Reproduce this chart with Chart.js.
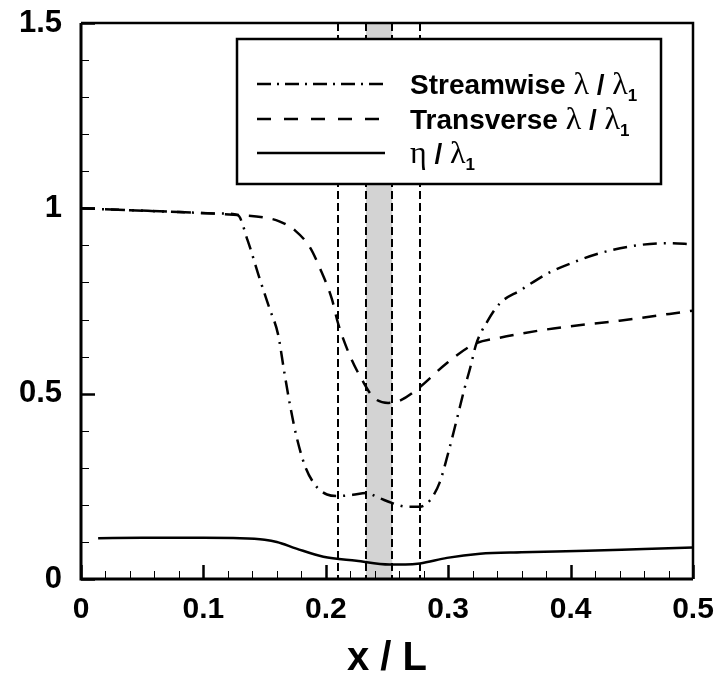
<!DOCTYPE html>
<html>
<head>
<meta charset="utf-8">
<script src="https://cdn.jsdelivr.net/npm/chart.js@4.4.0/dist/chart.umd.min.js"></script>
<style>
  body { margin: 0; background: #fff; }
  #wrap { width: 722px; height: 691px; }
</style>
</head>
<body>
<div id="wrap"><canvas id="myChart01" width="722" height="691"></canvas></div>
<script>
// 資料
var streamX = [0, 0.04, 0.08, 0.115, 0.128, 0.136, 0.146, 0.154, 0.161, 0.166, 0.171, 0.176, 0.183, 0.191, 0.201, 0.210, 0.222, 0.233, 0.244, 0.255, 0.266, 0.277, 0.285, 0.293, 0.300, 0.307, 0.313, 0.318, 0.323, 0.332, 0.342, 0.359, 0.381, 0.402, 0.426, 0.454, 0.479, 0.5];
var streamY = [1.0, 0.995, 0.99, 0.986, 0.982, 0.915, 0.81, 0.73, 0.66, 0.56, 0.465, 0.385, 0.305, 0.255, 0.228, 0.224, 0.227, 0.232, 0.218, 0.204, 0.195, 0.195, 0.212, 0.26, 0.34, 0.43, 0.51, 0.57, 0.635, 0.695, 0.743, 0.779, 0.824, 0.854, 0.881, 0.9, 0.906, 0.903];

var transX = [0, 0.04, 0.08, 0.128, 0.15, 0.162, 0.175, 0.187, 0.195, 0.205, 0.21, 0.22, 0.23, 0.239, 0.251, 0.261, 0.277, 0.299, 0.322, 0.342, 0.386, 0.44, 0.5];
var transY = [1.0, 0.995, 0.99, 0.982, 0.975, 0.965, 0.94, 0.895, 0.84, 0.755, 0.69, 0.6, 0.535, 0.49, 0.475, 0.482, 0.518, 0.583, 0.635, 0.651, 0.676, 0.697, 0.724];

var etaX = [0.014, 0.05, 0.1, 0.13, 0.15, 0.16, 0.176, 0.198, 0.225, 0.252, 0.265, 0.277, 0.299, 0.326, 0.36, 0.413, 0.46, 0.5];
var etaY = [0.11, 0.111, 0.111, 0.11, 0.106, 0.1, 0.082, 0.06, 0.049, 0.039, 0.039, 0.042, 0.057, 0.068, 0.072, 0.076, 0.081, 0.085];

// vertical marker lines and shaded band
var markerX = [0.2102, 0.2328, 0.2543, 0.2772];
var bandX = [0.2328, 0.2543];

var xTicks = [0, 0.1, 0.2, 0.3, 0.4, 0.5];
var yTicks = [0, 0.5, 1, 1.5];

function pts(xs, ys) {
    return xs.map(function (x, i) { return { x: x, y: ys[i] }; });
}

var SANS = '"Liberation Sans", Arial, sans-serif';
var SERIF = '"Liberation Serif", "Times New Roman", serif';

// 框線, 刻度, 圖例
var decor = {
    id: 'decor',
    beforeDatasetsDraw: function (chart) {
        var ctx = chart.ctx, a = chart.chartArea;
        var xs = chart.scales.x;
        ctx.save();
        ctx.fillStyle = '#d3d3d3';
        var b0 = xs.getPixelForValue(bandX[0]), b1 = xs.getPixelForValue(bandX[1]);
        ctx.fillRect(b0, a.top, b1 - b0, a.bottom - a.top);
        ctx.strokeStyle = '#000';
        ctx.lineWidth = 2;
        ctx.setLineDash([8, 4]);
        markerX.forEach(function (v) {
            var px = Math.round(xs.getPixelForValue(v));
            ctx.beginPath();
            ctx.moveTo(px, a.top);
            ctx.lineTo(px, a.bottom);
            ctx.stroke();
        });
        ctx.restore();
    },
    afterDatasetsDraw: function (chart) {
        var ctx = chart.ctx, a = chart.chartArea;
        var xs = chart.scales.x, ys = chart.scales.y;
        ctx.save();
        ctx.strokeStyle = '#000';
        ctx.setLineDash([]);

        // minor / major ticks (inward)
        var i, v, p;
        for (i = 0; i <= 25; i++) {
            v = i * 0.02;
            p = Math.round(xs.getPixelForValue(v)) + 0.5;
            var major = (i % 5 === 0);
            ctx.lineWidth = major ? 2.5 : 1;
            ctx.beginPath();
            ctx.moveTo(p, a.bottom);
            ctx.lineTo(p, a.bottom - (major ? 14 : 8));
            ctx.stroke();
        }
        for (i = 0; i <= 15; i++) {
            v = i * 0.1;
            p = Math.round(ys.getPixelForValue(v)) + 0.5;
            var majorY = (i % 5 === 0);
            ctx.lineWidth = majorY ? 2.5 : 1;
            ctx.beginPath();
            ctx.moveTo(a.left, p);
            ctx.lineTo(a.left + (majorY ? 14 : 8), p);
            ctx.stroke();
        }

        // frame
        ctx.lineWidth = 2.5;
        ctx.beginPath();
        ctx.moveTo(a.left, a.top);
        ctx.lineTo(a.right, a.top);
        ctx.lineTo(a.right, a.bottom);
        ctx.stroke();
        ctx.lineWidth = 3;
        ctx.beginPath();
        ctx.moveTo(a.left, a.top);
        ctx.lineTo(a.left, a.bottom);
        ctx.lineTo(a.right, a.bottom);
        ctx.stroke();

        // legend box
        var bx = 237, by = 39, bw = 424, bh = 145;
        ctx.fillStyle = '#fff';
        ctx.fillRect(bx, by, bw, bh);
        ctx.lineWidth = 2.5;
        ctx.strokeRect(bx, by, bw, bh);

        var rows = [
            { y: 84, dash: [14, 6, 2, 6], parts: [['b', 'Streamwise '], ['g', '\u03bb'], ['b', ' / '], ['g', '\u03bb'], ['s', '1']] },
            { y: 119, dash: [14, 13], parts: [['b', 'Transverse '], ['g', '\u03bb'], ['b', ' / '], ['g', '\u03bb'], ['s', '1']] },
            { y: 153, dash: [], parts: [['g', '\u03b7'], ['b', ' / '], ['g', '\u03bb'], ['s', '1']] }
        ];
        rows.forEach(function (r) {
            ctx.lineWidth = 2.5;
            ctx.setLineDash(r.dash);
            ctx.beginPath();
            ctx.moveTo(257, r.y);
            ctx.lineTo(385, r.y);
            ctx.stroke();
            ctx.setLineDash([]);
            var tx = 410;
            ctx.fillStyle = '#000';
            ctx.textBaseline = 'alphabetic';
            r.parts.forEach(function (pt) {
                var base = r.y + 10;
                if (pt[0] === 'b') ctx.font = 'bold 28px ' + SANS;
                else if (pt[0] === 'g') ctx.font = '32px ' + SERIF;
                else { ctx.font = 'bold 17px ' + SANS; base = r.y + 17; }
                ctx.fillText(pt[1], tx, base);
                tx += ctx.measureText(pt[1]).width;
            });
        });
        ctx.restore();
    }
};

var ctx01 = document.getElementById('myChart01');
var chart01 = new Chart(ctx01, {
    type: 'line',
    data: {
        datasets: [{
            label: 'Streamwise',
            data: pts(streamX, streamY),
            borderColor: '#000',
            borderWidth: 2.5,
            borderDash: [14, 7, 2, 7],
            pointRadius: 0,
            cubicInterpolationMode: 'monotone',
            fill: false
        }, {
            label: 'Transverse',
            data: pts(transX, transY),
            borderColor: '#000',
            borderWidth: 2.5,
            borderDash: [14, 10],
            pointRadius: 0,
            cubicInterpolationMode: 'monotone',
            fill: false
        }, {
            label: 'eta',
            data: pts(etaX, etaY),
            borderColor: '#000',
            borderWidth: 2.5,
            pointRadius: 0,
            cubicInterpolationMode: 'monotone',
            fill: false
        }]
    },
    options: {
        responsive: false,
        animation: false,
        devicePixelRatio: 1,
        layout: { padding: { top: 23, right: 29, left: 0, bottom: 0 } },
        plugins: { legend: { display: false }, tooltip: { enabled: false } },
        scales: {
            x: {
                type: 'linear',
                min: 0,
                max: 0.5,
                afterFit: function (s) { s.height = 112; s.paddingLeft = 0; s.paddingRight = 0; },
                afterBuildTicks: function (s) { s.ticks = xTicks.map(function (v) { return { value: v }; }); },
                grid: { display: false, drawTicks: false },
                border: { display: false },
                ticks: {
                    color: '#000',
                    padding: 13,
                    maxRotation: 0,
                    callback: function (v) { return String(v); },
                    font: { family: SANS, size: 30, weight: 'bold' }
                },
                title: {
                    display: true,
                    text: 'x / L',
                    color: '#000',
                    font: { family: SANS, size: 40, weight: 'bold' },
                    padding: { top: 0, bottom: 8 }
                }
            },
            y: {
                type: 'linear',
                min: 0,
                max: 1.5,
                afterFit: function (s) { s.width = 81; s.paddingTop = 0; s.paddingBottom = 0; },
                afterBuildTicks: function (s) { s.ticks = yTicks.map(function (v) { return { value: v }; }); },
                grid: { display: false, drawTicks: false },
                border: { display: false },
                ticks: {
                    color: '#000',
                    padding: 19,
                    callback: function (v) { return String(v); },
                    font: { family: SANS, size: 31, weight: 'bold' }
                }
            }
        }
    },
    plugins: [decor]
});
</script>
</body>
</html>
